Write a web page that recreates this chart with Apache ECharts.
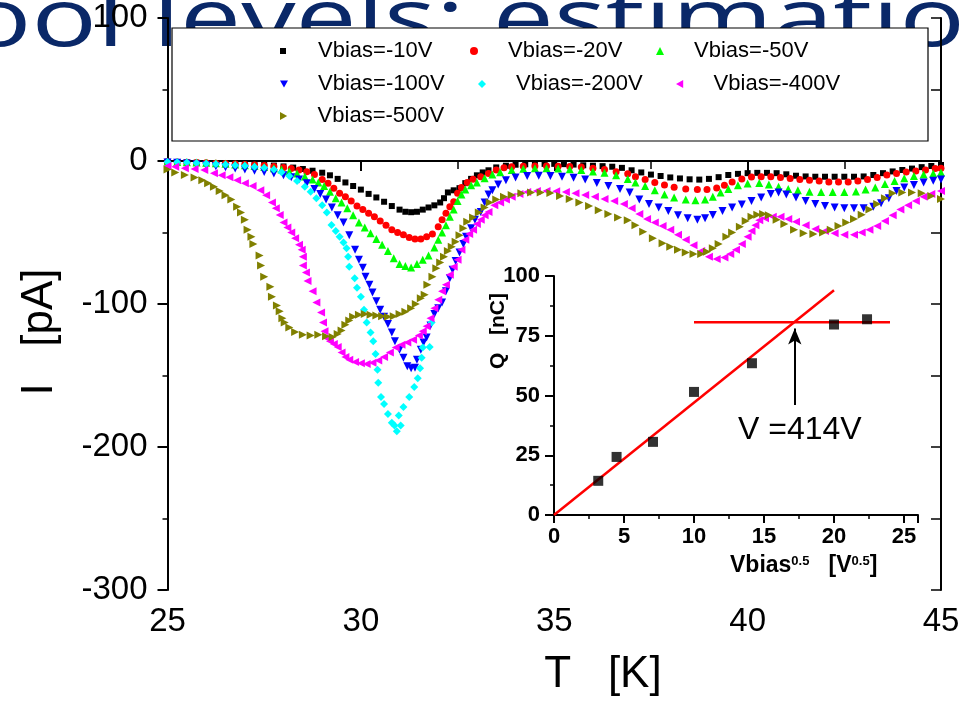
<!DOCTYPE html>
<html><head><meta charset="utf-8">
<script src="https://cdn.jsdelivr.net/npm/echarts@6/dist/echarts.min.js"></script>
<style>html,body{margin:0;padding:0;background:#fff}#c{width:963px;height:720px}</style>
</head><body><div id="c"></div>
<script>
const seriesNames = ['Vbias=-10V','Vbias=-20V','Vbias=-50V','Vbias=-100V','Vbias=-200V','Vbias=-400V','Vbias=-500V'];
const seriesColors = ['#000000','#ff0000','#00ff00','#0000ff','#00ffff','#ff00ff','#808000'];

const v10 = [[25.0,-0.5],[25.25,-0.7],[25.5,-1],[25.75,-1.2],[26.0,-1.5],[26.25,-1.7],[26.5,-2],[26.75,-2.2],[27.0,-2.4],[27.25,-2.6],[27.5,-2.8],[27.75,-3.2],[28.0,-3.8],[28.25,-4.6],[28.5,-5.6],[28.75,-6.8],[29.0,-8.2],[29.2,-10],[29.4,-12.5],[29.6,-15],[29.8,-17.5],[30.0,-20],[30.2,-23],[30.4,-25.5],[30.6,-28.5],[30.8,-31.5],[31.0,-34],[31.15,-35.5],[31.3,-35.8],[31.45,-35.5],[31.6,-34],[31.75,-32.5],[31.9,-31],[32.05,-29],[32.15,-26],[32.25,-22],[32.4,-20.5],[32.55,-19],[32.7,-15.5],[32.85,-12.5],[33.0,-10],[33.15,-8],[33.3,-6.5],[33.5,-4.5],[33.75,-3.3],[34.0,-2.6],[34.25,-2.3],[34.5,-2],[34.75,-2],[35.0,-2],[35.25,-2.2],[35.5,-2.5],[35.75,-3],[36.0,-3.3],[36.25,-3.6],[36.5,-4],[36.75,-4.8],[37.0,-6.5],[37.25,-8],[37.5,-9.5],[37.75,-10.5],[38.0,-11.5],[38.25,-12.2],[38.5,-12.8],[38.75,-13],[39.0,-12.5],[39.25,-11.3],[39.5,-9.8],[39.75,-9],[40.0,-8.5],[40.25,-8.3],[40.5,-8.3],[40.75,-8.5],[41.0,-9.3],[41.25,-10.3],[41.5,-10.8],[41.75,-11],[42.0,-11],[42.25,-11],[42.5,-11],[42.75,-11],[43.0,-10.8],[43.25,-9.8],[43.5,-8.5],[43.75,-7.3],[44.0,-6.3],[44.25,-5.3],[44.5,-4.3],[44.75,-3.5],[45.0,-2.8]];

const v20 = [[25.0,-0.5],[25.25,-0.7],[25.5,-0.9],[25.75,-1.1],[26.0,-1.3],[26.25,-1.5],[26.5,-1.8],[26.75,-2.1],[27.0,-2.4],[27.25,-2.8],[27.5,-3.2],[27.75,-3.8],[28.0,-4.5],[28.2,-5.3],[28.4,-6.3],[28.6,-7.6],[28.8,-9.5],[29.0,-13],[29.15,-15.5],[29.3,-19],[29.45,-22.5],[29.6,-25],[29.75,-28],[29.9,-31.5],[30.05,-34],[30.2,-36.5],[30.35,-39],[30.5,-42],[30.65,-45],[30.8,-48],[30.95,-50],[31.1,-51.6],[31.25,-53.5],[31.4,-54.5],[31.55,-54.5],[31.7,-53],[31.85,-51],[32.0,-46],[32.1,-41],[32.2,-36.5],[32.3,-32],[32.4,-28.5],[32.5,-22.5],[32.6,-18.5],[32.75,-15],[32.9,-12.8],[33.1,-11],[33.3,-8.7],[33.5,-6.3],[33.7,-4.8],[33.9,-4],[34.2,-3.7],[34.5,-3.5],[34.8,-3.5],[35.1,-3.6],[35.4,-3.8],[35.7,-4.2],[36.0,-5],[36.3,-6],[36.6,-7.6],[36.9,-9],[37.1,-11],[37.35,-13],[37.6,-15],[37.85,-16.8],[38.1,-18.3],[38.4,-19.5],[38.7,-20],[38.95,-20],[39.2,-18.8],[39.4,-17],[39.6,-14.6],[39.85,-12.5],[40.1,-11.2],[40.35,-11],[40.6,-11],[40.85,-11.5],[41.1,-12.3],[41.35,-13],[41.6,-13.5],[41.85,-14],[42.1,-14.6],[42.35,-14.6],[42.6,-14.6],[42.85,-14],[43.1,-13],[43.35,-11.5],[43.6,-9.8],[43.85,-8.7],[44.1,-7.7],[44.35,-7],[44.6,-6.3],[44.85,-5.3],[45.0,-5]];

const v50 = [[25.0,-0.5],[25.25,-0.7],[25.5,-0.9],[25.75,-1.1],[26.0,-1.3],[26.25,-1.6],[26.5,-2],[26.75,-2.4],[27.0,-2.9],[27.25,-3.5],[27.5,-4.2],[27.75,-5],[27.95,-6],[28.15,-7.3],[28.35,-8.8],[28.55,-10.8],[28.75,-13],[28.9,-15],[29.05,-17.5],[29.2,-21.5],[29.35,-26],[29.5,-29],[29.65,-33],[29.8,-38],[29.95,-43],[30.1,-46.5],[30.25,-50.5],[30.4,-54.5],[30.55,-58.5],[30.7,-63],[30.85,-68],[31.0,-72],[31.15,-73.5],[31.3,-74.5],[31.45,-72],[31.6,-69],[31.75,-66],[31.9,-60.5],[32.0,-55],[32.1,-50],[32.2,-45],[32.3,-39],[32.4,-34],[32.5,-28],[32.6,-23.5],[32.7,-20],[32.85,-17],[33.0,-15],[33.2,-12],[33.4,-9.5],[33.6,-7.8],[33.9,-6.3],[34.2,-5.5],[34.5,-5],[34.8,-5],[35.1,-5.3],[35.4,-5.8],[35.7,-6.3],[36.0,-7.3],[36.3,-8.3],[36.6,-10],[36.9,-12.5],[37.1,-15],[37.35,-17.5],[37.6,-20.5],[37.85,-23.5],[38.1,-25.5],[38.4,-27],[38.65,-27.5],[38.9,-27],[39.1,-25],[39.3,-22],[39.5,-19.5],[39.75,-17],[40.0,-15.8],[40.3,-15.4],[40.55,-16.5],[40.8,-18],[41.05,-19.5],[41.3,-20.5],[41.6,-21.5],[41.9,-21.6],[42.2,-21.6],[42.5,-21.6],[42.8,-21.3],[43.05,-20],[43.3,-18.5],[43.55,-16],[43.8,-14],[44.05,-12],[44.3,-10.5],[44.55,-9.5],[44.8,-8.7],[45.0,-8]];

const v100 = [[25.0,-1],[25.25,-1.3],[25.5,-1.8],[25.75,-2.5],[26.0,-3],[26.25,-3.7],[26.5,-4.4],[26.75,-5.2],[27.0,-6],[27.25,-6.8],[27.5,-7.7],[27.75,-8.8],[28.0,-10],[28.2,-11.3],[28.4,-13],[28.6,-15.5],[28.8,-19.5],[28.95,-23],[29.1,-27],[29.25,-32.5],[29.4,-38],[29.55,-43],[29.7,-52],[29.85,-62],[29.95,-69],[30.05,-74.7],[30.12,-81],[30.22,-86.5],[30.3,-92],[30.4,-98],[30.5,-104],[30.6,-109],[30.7,-114],[30.8,-120],[30.88,-126],[31.0,-132],[31.1,-137.5],[31.2,-143.5],[31.3,-145],[31.4,-144.5],[31.45,-139],[31.55,-132],[31.62,-127],[31.7,-123.5],[31.8,-115],[31.9,-107],[32.0,-103],[32.1,-99],[32.2,-91],[32.3,-82],[32.37,-76],[32.45,-70],[32.55,-64],[32.65,-58],[32.72,-53],[32.85,-47],[32.95,-41],[33.1,-35.6],[33.2,-29],[33.3,-23.5],[33.4,-20.5],[33.55,-16.5],[33.75,-13.5],[34.0,-11.5],[34.3,-10.5],[34.6,-10.3],[34.9,-10.5],[35.2,-11],[35.5,-11.7],[35.8,-13],[36.1,-15.4],[36.4,-17.5],[36.7,-19.5],[36.95,-22],[37.2,-27],[37.45,-30],[37.7,-32.5],[37.95,-35],[38.2,-38],[38.45,-40],[38.7,-41],[38.9,-40],[39.1,-37.7],[39.35,-35],[39.6,-32.5],[39.85,-30.5],[40.1,-28],[40.35,-25.5],[40.6,-23],[40.8,-22],[41.0,-23.5],[41.25,-25.5],[41.5,-28],[41.75,-30],[42.0,-31.5],[42.25,-32.5],[42.5,-33],[42.75,-33],[43.0,-33],[43.25,-32],[43.45,-29.5],[43.65,-26],[43.85,-21],[44.05,-18.5],[44.3,-16.7],[44.55,-15],[44.8,-13.8],[45.0,-13]];

const v200 = [[25.0,-0.7],[25.25,-0.9],[25.5,-1.1],[25.75,-1.4],[26.0,-1.7],[26.25,-2.1],[26.5,-2.5],[26.75,-3],[27.0,-3.4],[27.25,-4],[27.5,-4.8],[27.75,-6],[27.95,-7.8],[28.15,-10.5],[28.35,-14],[28.55,-18],[28.7,-21.5],[28.85,-26],[29.0,-31],[29.12,-36],[29.24,-44.7],[29.35,-49],[29.45,-53],[29.55,-57],[29.63,-61],[29.67,-67],[29.7,-74],[29.84,-82],[29.9,-88.6],[30.0,-95],[30.08,-104],[30.15,-113],[30.25,-120],[30.32,-126],[30.38,-135],[30.43,-146],[30.45,-155],[30.52,-165],[30.6,-170],[30.7,-177],[30.8,-183],[30.87,-185],[30.93,-189],[31.03,-185],[30.98,-178],[31.1,-172],[31.25,-165],[31.38,-158],[31.47,-152],[31.53,-145],[31.57,-137.5],[31.6,-130.5],[31.78,-130],[31.83,-113]];

const v400 = [[25.0,-3.5],[25.2,-4],[25.45,-5],[25.7,-5.6],[25.95,-6.3],[26.2,-8.6],[26.4,-10],[26.6,-11.3],[26.8,-13.5],[27.0,-15.5],[27.2,-17.5],[27.4,-20.5],[27.55,-24],[27.7,-29],[27.8,-33],[27.9,-37.7],[28.0,-43],[28.1,-46.5],[28.2,-50],[28.3,-54],[28.4,-58.5],[28.47,-62],[28.5,-67],[28.5,-73],[28.58,-78],[28.62,-84],[28.75,-91],[28.85,-99],[28.97,-106],[29.02,-113],[29.06,-119],[29.12,-124],[29.2,-126],[29.3,-128],[29.4,-130],[29.5,-134],[29.6,-137],[29.7,-139],[29.85,-140.5],[30.0,-141.5],[30.15,-142],[30.3,-141],[30.45,-139.5],[30.6,-137],[30.75,-134],[30.9,-130.5],[31.05,-128.5],[31.2,-127],[31.35,-125],[31.5,-122],[31.6,-119],[31.7,-115.5],[31.8,-110],[31.9,-103],[32.0,-97],[32.1,-91],[32.2,-86.5],[32.3,-79.5],[32.4,-74],[32.5,-69],[32.6,-62],[32.7,-55],[32.8,-51],[32.9,-48],[33.0,-44],[33.1,-41],[33.2,-38],[33.3,-35.6],[33.45,-31],[33.6,-29],[33.75,-27],[33.9,-25],[34.1,-23],[34.3,-21.6],[34.55,-21],[34.8,-21],[35.05,-21.2],[35.3,-21.6],[35.55,-22.5],[35.8,-23.7],[36.05,-25],[36.3,-26.5],[36.55,-28],[36.8,-30],[37.0,-33],[37.2,-37],[37.4,-40.5],[37.6,-43],[37.8,-45.5],[38.0,-48],[38.2,-51.5],[38.4,-55],[38.6,-59],[38.8,-63],[39.0,-67],[39.2,-68.5],[39.4,-67.5],[39.55,-65],[39.7,-62],[39.85,-58],[40.0,-53],[40.1,-49],[40.2,-45],[40.3,-41.5],[40.45,-40],[40.65,-39],[40.85,-39],[41.05,-40.5],[41.25,-42.5],[41.5,-45],[41.75,-47.5],[42.0,-49],[42.25,-50.5],[42.5,-51.5],[42.75,-51.5],[42.95,-50],[43.15,-48],[43.35,-45.5],[43.55,-42],[43.75,-38],[43.95,-34],[44.15,-31],[44.35,-28],[44.55,-25],[44.75,-23],[45.0,-21]];

const v500 = [[25.0,-6],[25.2,-8],[25.45,-9.8],[25.7,-11.5],[25.9,-13.5],[26.05,-15.6],[26.2,-18],[26.35,-21],[26.5,-24],[26.65,-27],[26.8,-32],[26.9,-36],[27.0,-41],[27.07,-48],[27.17,-53],[27.22,-58],[27.38,-66],[27.42,-73],[27.5,-81],[27.66,-88],[27.7,-95],[27.83,-101],[27.9,-105],[27.97,-110],[28.03,-113],[28.15,-116.5],[28.3,-119.5],[28.5,-121.5],[28.7,-122],[28.9,-121.5],[29.1,-122.5],[29.27,-123],[29.4,-121],[29.5,-118.5],[29.6,-114.5],[29.7,-111.5],[29.8,-109],[29.95,-107.5],[30.1,-107],[30.25,-107.5],[30.4,-108],[30.55,-108.5],[30.7,-109],[30.85,-108.5],[31.0,-107],[31.15,-105.5],[31.3,-103],[31.42,-100],[31.55,-96],[31.65,-93.5],[31.72,-86.5],[31.85,-81],[31.95,-75],[32.05,-71],[32.15,-67],[32.25,-63],[32.35,-60],[32.45,-56.5],[32.55,-52],[32.65,-47],[32.75,-42.5],[32.9,-39.5],[33.05,-36],[33.2,-32.5],[33.33,-29],[33.5,-27],[33.7,-25],[33.9,-23.7],[34.15,-22.5],[34.4,-22],[34.65,-22],[34.9,-22.3],[35.15,-24.5],[35.4,-26.5],[35.65,-29],[35.9,-31.5],[36.15,-34.5],[36.4,-37],[36.65,-39.5],[36.9,-41.5],[37.1,-45],[37.3,-49.5],[37.55,-54],[37.8,-57.5],[38.0,-60],[38.2,-62],[38.4,-64],[38.6,-65],[38.8,-65],[38.95,-63.5],[39.1,-61],[39.25,-58],[39.45,-53],[39.6,-50],[39.8,-46],[39.95,-42],[40.1,-39],[40.25,-37.5],[40.4,-37],[40.55,-38],[40.75,-41],[40.95,-44],[41.2,-48],[41.45,-50.5],[41.7,-51],[41.95,-50],[42.15,-48],[42.35,-45.5],[42.55,-43],[42.75,-40.5],[42.95,-37.5],[43.15,-34],[43.35,-30],[43.55,-26],[43.75,-22.5],[44.0,-22],[44.25,-22],[44.5,-22.5],[44.75,-24.5],[45.0,-26.5]];

// inset
const insetSqrtV = [3.16, 4.47, 7.07, 10, 14.14, 20, 22.36];
const insetQ = [14.3, 24.3, 30.6, 51.5, 63.5, 79.7, 81.9];
const fitLine = [[0, 0], [20, 94]];
const plateauLine = [[10, 80.7], [24, 80.7]];
const arrowFrom = [17.2, 46];
const arrowTo = [17.2, 78];
const insetNote = 'V =414V';
const titleText = 'ool levels: estimation';

const allData = [v10, v20, v50, v100, v200, v400, v500];
const symbols = ['rect','circle','triangle','triangle','diamond','triangle','triangle'];
const rotations = [0,0,0,180,0,90,-90];
const legendIcons = ['rect','circle','triangle','path://M0,0L10,0L5,9Z','diamond','path://M9,0L0,5L9,10Z','path://M0,0L9,5L0,10Z'];
const sizes = [6,7,8,8,8,8,8];
const legendTextX = [318,508,694,318,516,714,318];
const legendRowY = [52,52,52,85,85,85,117];

const FONT = 'Liberation Sans, Arial, sans-serif';
const chart = echarts.init(document.getElementById('c'), null, {renderer:'canvas'});

const series = allData.map((d,i)=>({
  name: seriesNames[i], type:'scatter', xAxisIndex:0, yAxisIndex:0,
  data: d, symbol: symbols[i], symbolRotate: rotations[i], symbolSize: sizes[i],
  itemStyle:{color: seriesColors[i], opacity:1}, z: 3+i, animation:false
}));

series.push({
  type:'scatter', xAxisIndex:2, yAxisIndex:2,
  data: insetSqrtV.map((x,i)=>[x, insetQ[i]]),
  symbol:'rect', symbolSize:10, itemStyle:{color:'#000'}, z:12, animation:false
});
series.push({
  type:'line', xAxisIndex:2, yAxisIndex:2, data: fitLine, symbol:'none',
  lineStyle:{color:'#ff0000', width:2.5}, z:11, animation:false
});
series.push({
  type:'line', xAxisIndex:2, yAxisIndex:2, data: plateauLine, symbol:'none',
  lineStyle:{color:'#ff0000', width:2.5}, z:11, animation:false,
  markLine:{
    silent:true, symbol:['none','arrow'], symbolSize:[10,16], animation:false,
    label:{show:false},
    lineStyle:{color:'#000', width:2, type:'solid'},
    data:[[{coord: arrowFrom},{coord: arrowTo}]]
  }
});

const legends = seriesNames.map((n,i)=>({
  data:[{name:n, icon: legendIcons[i]}], left: legendTextX[i]-38, top: legendRowY[i]-12, orient:'horizontal',
  itemWidth: i===0 ? 6 : 8, itemHeight: i===0 ? 6 : 8, padding:0, selectedMode:false, z:10,
  textStyle:{fontSize:22, fontFamily:FONT, color:'#000', padding:[0,0,0, i===0 ? 27 : 25]}
}));

const axisLine = {show:true, lineStyle:{color:'#000', width:2}};

chart.setOption({
  backgroundColor:'#fff',
  animation:false,
  legend: legends,
  grid:[
    {left:167.5, top:18, width:773.5, height:572, containLabel:false},
    {left:554, top:276, width:364, height:239, containLabel:false}
  ],
  xAxis:[
    {gridIndex:0, type:'value', min:25, max:45, interval:5, position:'bottom',
     axisLine: axisLine, axisTick:{show:true, inside:false, length:10, lineStyle:{color:'#000', width:2}},
     minorTick:{show:true, splitNumber:2, length:5, lineStyle:{color:'#000', width:1.5}},
     axisLabel:{fontSize:33, fontFamily:FONT, color:'#000', margin:15},
     splitLine:{show:false}},
    {gridIndex:0, type:'value', min:25, max:45, interval:2.5, position:'top',
     axisLine: axisLine, axisTick:{show:true, inside:true, length:8, lineStyle:{color:'#000', width:1.5}},
     axisLabel:{show:false}, splitLine:{show:false}},
    {gridIndex:1, type:'value', min:0, max:26, interval:5, position:'bottom',
     axisLine: axisLine, axisTick:{show:true, inside:false, length:8, lineStyle:{color:'#000', width:2}},
     minorTick:{show:true, splitNumber:2, length:4, lineStyle:{color:'#000', width:1.5}},
     axisLabel:{fontSize:22, fontWeight:'bold', fontFamily:FONT, color:'#000', margin:11, showMaxLabel:false},
     splitLine:{show:false}}
  ],
  yAxis:[
    {gridIndex:0, type:'value', min:-300, max:100, interval:100, position:'left',
     axisLine: axisLine, axisTick:{show:true, inside:false, length:10, lineStyle:{color:'#000', width:2}},
     minorTick:{show:true, splitNumber:2, length:5, lineStyle:{color:'#000', width:1.5}},
     axisLabel:{fontSize:33, fontFamily:FONT, color:'#000', margin:20},
     splitLine:{show:false}},
    {gridIndex:0, type:'value', min:-300, max:100, interval:50, position:'right',
     axisLine: axisLine, axisTick:{show:true, inside:true, length:10, lineStyle:{color:'#000', width:1.5}},
     axisLabel:{show:false}, splitLine:{show:false}},
    {gridIndex:1, type:'value', min:0, max:100, interval:25, position:'left',
     axisLine: axisLine, axisTick:{show:true, inside:false, length:9, lineStyle:{color:'#000', width:2}},
     minorTick:{show:true, splitNumber:2, length:4, lineStyle:{color:'#000', width:1.5}},
     axisLabel:{fontSize:22, fontWeight:'bold', fontFamily:FONT, color:'#000', margin:14},
     splitLine:{show:false}}
  ],
  graphic:[
    {type:'text', x:-34, y:-17, scaleX:1.36, scaleY:1, z:-10, silent:true,
     style:{text:titleText, fontSize:80, fontFamily:'Open Sans, sans-serif', fill:'#0a2868', textVerticalAlign:'top'}},
    {type:'rect', shape:{x:172, y:28, width:756, height:113}, z:1, silent:true,
     style:{fill:'#ffffff', stroke:'#000', lineWidth:1.2}},
    {type:'text', x:603, y:675, z:5, silent:true,
     style:{text:'T   [K]', fontSize:44, fontFamily:FONT, fill:'#000', textAlign:'center', textVerticalAlign:'middle'}},
    {type:'text', x:40, y:332, rotation:Math.PI/2, z:5, silent:true,
     style:{text:'I   [pA]', fontSize:44, fontFamily:FONT, fill:'#000', textAlign:'center', textVerticalAlign:'middle'}},
    {type:'text', x:498, y:331, rotation:Math.PI/2, z:5, silent:true,
     style:{text:'Q   [nC]', fontSize:21, fontWeight:'bold', fontFamily:FONT, fill:'#000', textAlign:'center', textVerticalAlign:'middle'}},
    {type:'text', x:730, y:566, z:5, silent:true,
     style:{text:'{b|Vbias}{s|0.5}{b|   [V}{s|0.5}{b|]}', textVerticalAlign:'middle',
       rich:{b:{fontSize:23, fontWeight:'bold', fontFamily:FONT, fill:'#000', color:'#000'},
             s:{fontSize:13, fontWeight:'bold', fontFamily:FONT, fill:'#000', color:'#000', verticalAlign:'top'}}}},
    {type:'text', x:738, y:430, z:5, silent:true,
     style:{text:insetNote, fontSize:32, fontFamily:FONT, fill:'#000', textVerticalAlign:'middle'}}
  ],
  series: series
});
</script>
</body></html>
